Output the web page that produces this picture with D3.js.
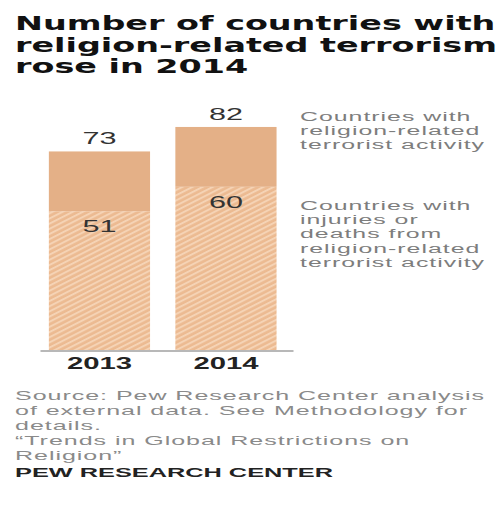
<!DOCTYPE html>
<html>
<head>
<meta charset="utf-8">
<script src="https://cdn.jsdelivr.net/npm/d3@7"></script>
<style>
  body { margin: 0; background: #fff; }
  text { font-family: "Liberation Sans", Arial, sans-serif; }
</style>
</head>
<body>
<svg width="501" height="506"></svg>
<script>
const years = ["2013", "2014"];
const anyActivity = [73, 82];
const withCasualties = [51, 60];
const titleLines = ["Number of countries with", "religion-related terrorism", "rose in 2014"];
const legendTop = ["Countries with", "religion-related", "terrorist activity"];
const legendBottom = ["Countries with", "injuries or", "deaths from", "religion-related", "terrorist activity"];
const noteLines = [
    "Source: Pew Research Center analysis",
    "of external data. See Methodology for",
    "details.",
    "\u201cTrends in Global Restrictions on",
    "Religion\u201d"
];
const credit = "PEW RESEARCH CENTER";

const svg = d3.select("svg");

// the picture is wider than the font, so each block of text is stretched to fit
function stretchTo(sel, target) {
    let widest = 0;
    sel.each(function() { widest = Math.max(widest, this.getComputedTextLength()); });
    const k = target / widest;
    sel.each(function() {
        d3.select(this)
            .attr("textLength", this.getComputedTextLength() * k)
            .attr("lengthAdjust", "spacingAndGlyphs");
    });
}

// title
const title = svg.append("g").selectAll("text")
    .data(titleLines)
    .enter().append("text")
    .attr("x", 15)
    .attr("y", (d, i) => 30 + i * 21.5)
    .style("font-family", "'DejaVu Sans', sans-serif")
    .attr("font-weight", "bold")
    .attr("font-size", "19.5px")
    .attr("fill", "#111")
    .text(d => d);
stretchTo(title, 482);

const x = d3.scaleBand()
    .domain(years)
    .range([40, 293])
    .paddingInner(0.2)
    .paddingOuter(0.1)
    .align(0.35);
const y = d3.scaleLinear().domain([0, 100]).range([350, 78]);

const defs = svg.append("defs");
const hatch = defs.append("pattern")
    .attr("id", "hatch")
    .attr("patternUnits", "userSpaceOnUse")
    .attr("width", 8)
    .attr("height", 4.6)
    .attr("patternTransform", "rotate(-27)");
hatch.append("rect").attr("width", 8).attr("height", 4.6).attr("fill", "#ECBA91");
hatch.append("rect").attr("width", 8).attr("height", 2).attr("fill", "#F5D3B5");

const bars = svg.append("g").selectAll("g")
    .data(years.map((yr, i) => ({ yr, total: anyActivity[i], part: withCasualties[i] })))
    .enter().append("g");

bars.append("rect")
    .attr("x", d => x(d.yr))
    .attr("width", x.bandwidth())
    .attr("y", d => y(d.part))
    .attr("height", d => y(0) - y(d.part))
    .attr("fill", "url(#hatch)");

bars.append("rect")
    .attr("x", d => x(d.yr))
    .attr("width", x.bandwidth())
    .attr("y", d => y(d.total))
    .attr("height", d => y(d.part) - y(d.total))
    .attr("fill", "#E4B087");

const totals = bars.append("text")
    .attr("x", d => x(d.yr) + x.bandwidth() / 2)
    .attr("y", d => y(d.total) - 7)
    .attr("text-anchor", "middle")
    .attr("font-size", "16px")
    .attr("fill", "#333")
    .text(d => d.total);
stretchTo(totals, 34);

const parts = bars.append("text")
    .attr("x", d => x(d.yr) + x.bandwidth() / 2)
    .attr("y", d => y(d.part) + 21)
    .attr("text-anchor", "middle")
    .attr("font-size", "16px")
    .attr("fill", "#333")
    .text(d => d.part);
stretchTo(parts, 34);

const xAxis = svg.append("g")
    .attr("transform", "translate(0,350.5)")
    .call(d3.axisBottom(x).tickSize(0).tickSizeOuter(0));
xAxis.select(".domain").attr("stroke", "#a0a0a0").attr("stroke-width", 1.5);
const yearLabels = xAxis.selectAll("text")
    .attr("y", 18.5)
    .attr("dy", null)
    .attr("font-size", "16px")
    .attr("font-weight", "bold")
    .attr("fill", "#222");
stretchTo(yearLabels, 65);

// labels on the right
const legA = svg.append("g").selectAll("text")
    .data(legendTop)
    .enter().append("text")
    .attr("x", 300)
    .attr("y", (d, i) => 121 + i * 14)
    .attr("font-size", "12.5px")
    .attr("letter-spacing", "0.5px")
    .attr("fill", "#7d7d7d")
    .text(d => d);
stretchTo(legA, 185);

const legB = svg.append("g").selectAll("text")
    .data(legendBottom)
    .enter().append("text")
    .attr("x", 300)
    .attr("y", (d, i) => 210 + i * 14.2)
    .attr("font-size", "12.5px")
    .attr("letter-spacing", "0.5px")
    .attr("fill", "#7d7d7d")
    .text(d => d);
stretchTo(legB, 185);

// notes
const notes = svg.append("g").selectAll("text")
    .data(noteLines)
    .enter().append("text")
    .attr("x", 15)
    .attr("y", (d, i) => 400 + i * 15)
    .attr("font-size", "13px")
    .attr("letter-spacing", "0.5px")
    .attr("fill", "#8a8a8a")
    .text(d => d);
stretchTo(notes, 470);

const pew = svg.append("text")
    .attr("x", 15)
    .attr("y", 477)
    .attr("font-size", "13px")
    .attr("font-weight", "bold")
    .attr("fill", "#222")
    .text(credit);
stretchTo(pew, 318);
</script>
</body>
</html>
